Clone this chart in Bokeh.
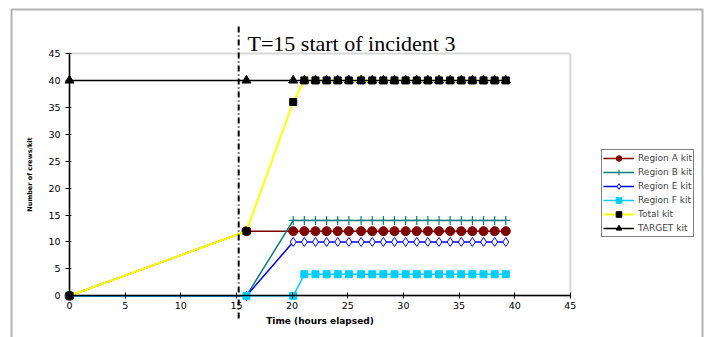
from bokeh.plotting import figure
from bokeh.models import (ColumnDataSource, Range1d, FixedTicker, Legend, LegendItem,
                          Label, BoxAnnotation)
from bokeh.embed import file_html
from bokeh.resources import INLINE

# ---- data ----
hours = [0, 15.9, 20.1, 21.1, 22.1, 23.1, 24.1, 25.1, 26.2, 27.2, 28.2, 29.2,
         30.2, 31.2, 32.2, 33.2, 34.2, 35.2, 36.2, 37.2, 38.2, 39.2]
region_a = [0, 12, 12, 12, 12, 12, 12, 12, 12, 12, 12, 12,
            12, 12, 12, 12, 12, 12, 12, 12, 12, 12]
region_b = [0, 0, 14, 14, 14, 14, 14, 14, 14, 14, 14, 14,
            14, 14, 14, 14, 14, 14, 14, 14, 14, 14]
region_e = [0, 0, 10, 10, 10, 10, 10, 10, 10, 10, 10, 10,
            10, 10, 10, 10, 10, 10, 10, 10, 10, 10]
region_f = [0, 0, 0, 4, 4, 4, 4, 4, 4, 4, 4, 4,
            4, 4, 4, 4, 4, 4, 4, 4, 4, 4]
total_kit = [0, 12, 36, 40, 40, 40, 40, 40, 40, 40, 40, 40,
             40, 40, 40, 40, 40, 40, 40, 40, 40, 40]
target_kit = [40, 40, 40, 40, 40, 40, 40, 40, 40, 40, 40, 40,
              40, 40, 40, 40, 40, 40, 40, 40, 40, 40]
series_labels = ["Region A kit", "Region B kit", "Region E kit", "Region F kit",
                 "Total kit", "TARGET kit"]
axis_ticks = [0, 5, 10, 15, 20, 25, 30, 35, 40, 45]
axis_max = 45
incident_time = 15.2
incident_text = "T=15 start of incident 3"
x_title = "Time (hours elapsed)"
y_title = "Number of crews/kit"

# ---- layout (pixels) ----
W, H = 708, 337
X0_PX, X_SCALE = 69.0, 11.13      # pixel of x=0, pixels per hour
Y0_PX, Y_SCALE = 295.3, 5.384     # pixel of y=0, pixels per unit


def px_to_x(px):
    return (px - X0_PX) / X_SCALE


def px_to_y(py):
    return (Y0_PX - py) / Y_SCALE


source = ColumnDataSource(dict(t=hours, a=region_a, b=region_b, e=region_e,
                               f=region_f, tot=total_kit, tgt=target_kit))

p = figure(width=W, height=H, output_backend="svg", toolbar_location=None,
           x_range=Range1d(px_to_x(0), px_to_x(W)),
           y_range=Range1d(px_to_y(H), px_to_y(0)),
           min_border=0, min_border_left=0, min_border_right=0,
           min_border_top=0, min_border_bottom=0,
           background_fill_color="white", border_fill_color="white",
           outline_line_color=None)

p.xgrid.visible = False
p.ygrid.visible = False

# axes placed at the data origin
for ax in (p.xaxis[0], p.yaxis[0]):
    ax.fixed_location = 0
    ax.bounds = (0, axis_max)
    ax.ticker = FixedTicker(ticks=axis_ticks)
    ax.axis_line_color = "black"
    ax.axis_line_width = 1.5
    ax.major_tick_line_color = "black"
    ax.major_tick_line_width = 1
    ax.minor_tick_line_color = None
    ax.major_label_text_font = "DejaVu Sans"
    ax.major_label_text_font_size = "9.5px"
    ax.major_label_text_color = "black"

p.xaxis.major_tick_in = 3
p.xaxis.major_tick_out = 3
p.xaxis.major_label_standoff = 3
p.xaxis.axis_label = x_title
p.xaxis.axis_label_text_font = "DejaVu Sans"
p.xaxis.axis_label_text_font_style = "bold"
p.xaxis.axis_label_text_font_size = "9px"
p.xaxis.axis_label_text_color = "black"
p.xaxis.axis_label_standoff = 4

p.yaxis.major_tick_in = 2
p.yaxis.major_tick_out = 4
p.yaxis.major_label_standoff = 5
p.yaxis.axis_label = y_title
p.yaxis.axis_label_text_font = "DejaVu Sans"
p.yaxis.axis_label_text_font_style = "bold"
p.yaxis.axis_label_text_font_size = "6.5px"
p.yaxis.axis_label_text_color = "black"
p.yaxis.axis_label_standoff = 11

# plot area border (top/right grey)
p.add_layout(BoxAnnotation(left=0, right=axis_max, bottom=0, top=axis_max, fill_alpha=0,
                           line_color="#7a7a7a", line_width=2, level="underlay"))

# outer chart border
p.add_layout(BoxAnnotation(left=px_to_x(11), right=px_to_x(702),
                           top=px_to_y(9), bottom=px_to_y(H + 5),
                           fill_alpha=0, line_color="black", line_width=2,
                           level="underlay"))

# series
ra_l = p.line("t", "a", source=source, color="#800000", line_width=1.5)
ra_s = p.scatter("t", "a", source=source, marker="circle", size=9,
                 fill_color="#800000", line_color="#800000")
rb_l = p.line("t", "b", source=source, color="#008080", line_width=1.5)
rb_s = p.scatter("t", "b", source=source, marker="cross", size=9,
                 line_color="#008080", line_width=1.2)
re_l = p.line("t", "e", source=source, color="#0000ff", line_width=1.5)
re_s = p.scatter("t", "e", source=source, marker="diamond", size=9,
                 fill_color="white", line_color="#0000ff", line_width=1)
rf_l = p.line("t", "f", source=source, color="#00ccff", line_width=1.5)
rf_s = p.scatter("t", "f", source=source, marker="square", size=7,
                 fill_color="#00ccff", line_color="#00ccff")
tot_l = p.line("t", "tot", source=source, color="#ffff00", line_width=2)
tot_s = p.scatter("t", "tot", source=source, marker="square", size=7,
                  fill_color="black", line_color="black")
tg_l = p.line("t", "tgt", source=source, color="black", line_width=1.5)
tg_s = p.scatter("t", "tgt", source=source, marker="triangle", size=9,
                 fill_color="black", line_color="black")

# incident marker (dash-dot vertical line) and its caption
p.segment(x0=[incident_time], y0=[px_to_y(318)], x1=[incident_time], y1=[px_to_y(24)],
          line_color="black", line_width=2, line_dash="6 3 1 3")
p.add_layout(Label(x=px_to_x(247), y=px_to_y(43), text=incident_text,
                   text_font="Liberation Serif", text_font_size="22px",
                   text_baseline="alphabetic", text_color="black"))

renderers = [[ra_l, ra_s], [rb_l, rb_s], [re_l, re_s], [rf_l, rf_s],
             [tot_l, tot_s], [tg_l, tg_s]]
items = [LegendItem(label=lab, renderers=r) for lab, r in zip(series_labels, renderers)]
legend = Legend(items=items, location=(601, H - 237), padding=1, spacing=0, margin=0,
                label_height=14, glyph_height=14, glyph_width=31, label_standoff=4,
                label_text_font="DejaVu Sans", label_text_font_size="9px",
                border_line_color="black", border_line_width=1,
                background_fill_color="white", background_fill_alpha=1)
p.add_layout(legend, "center")

open("out.html", "w").write(file_html(p, INLINE))
